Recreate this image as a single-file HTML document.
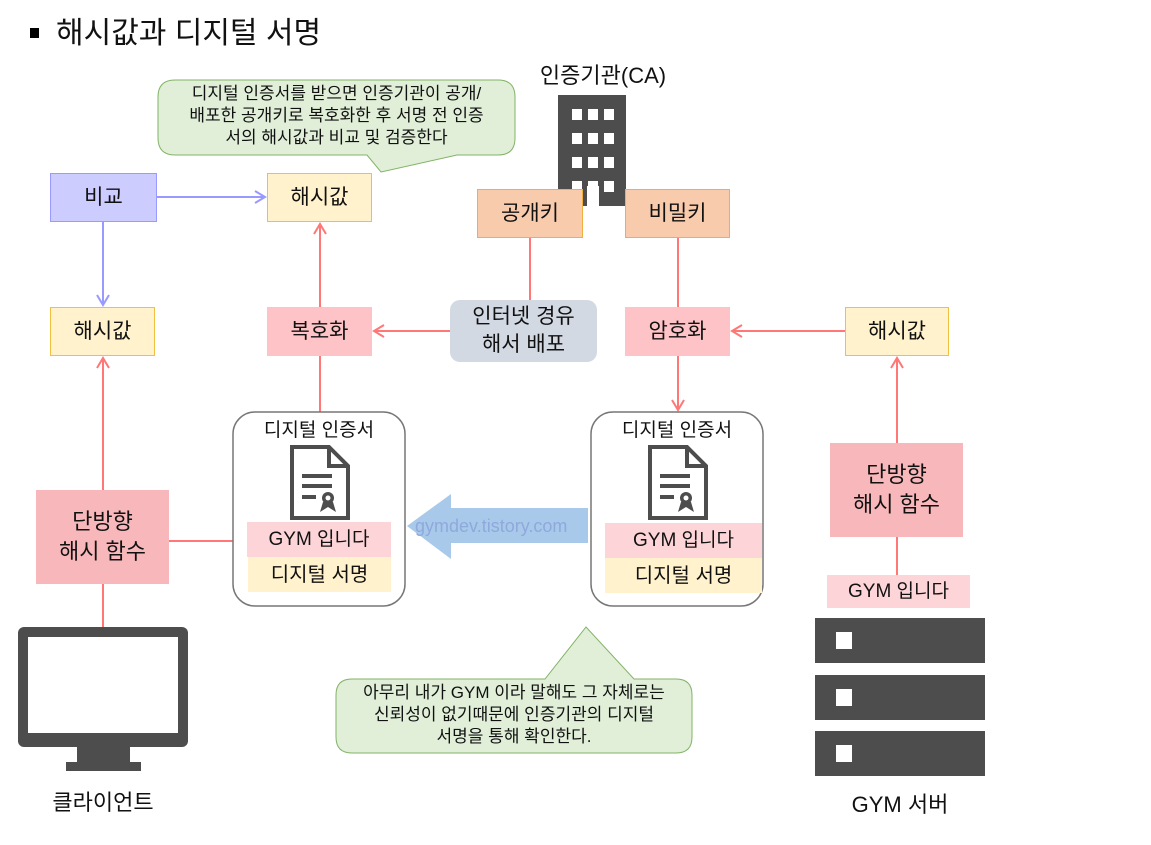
<!DOCTYPE html>
<html><head><meta charset="utf-8"><style>
body{margin:0;width:1151px;height:845px;background:#fff;position:relative;overflow:hidden;font-family:"Liberation Sans","Noto Sans CJK KR",sans-serif;color:#111}
.b{position:absolute;display:flex;align-items:center;justify-content:center;text-align:center;box-sizing:border-box;font-size:21px;line-height:28px}
.t{position:absolute;text-align:center;white-space:nowrap}
</style></head><body>
<svg width="1151" height="845" style="position:absolute;left:0;top:0">
<defs>
<marker id="ar" markerWidth="14" markerHeight="14" refX="11" refY="7" orient="auto" markerUnits="userSpaceOnUse"><path d="M1,1 L11,7 L1,13" fill="none" stroke="#f77" stroke-width="2"/></marker>
<marker id="ab" markerWidth="14" markerHeight="14" refX="11" refY="7" orient="auto" markerUnits="userSpaceOnUse"><path d="M1,1 L11,7 L1,13" fill="none" stroke="#99f" stroke-width="2"/></marker>
</defs>
<rect x="30" y="28" width="9" height="10" fill="#000"/>
<path d="M175,80 H498 Q515,80 515,97 V138 Q515,155 498,155 H457 L381,172 L367,155 H175 Q158,155 158,138 V97 Q158,80 175,80 Z" fill="#e1efd9" stroke="#82b366" stroke-width="1"/>
<path d="M352,679 H545 L586,627 L634,679 H676 Q692,679 692,695 V737 Q692,753 676,753 H352 Q336,753 336,737 V695 Q336,679 352,679 Z" fill="#e1efd9" stroke="#82b366" stroke-width="1"/>
<rect x="558" y="95" width="68" height="111" fill="#4d4d4d"/>
<g fill="#fff">
<rect x="572" y="109" width="10" height="11"/><rect x="588" y="109" width="10" height="11"/><rect x="604" y="109" width="10" height="11"/>
<rect x="572" y="133" width="10" height="11"/><rect x="588" y="133" width="10" height="11"/><rect x="604" y="133" width="10" height="11"/>
<rect x="572" y="157" width="10" height="11"/><rect x="588" y="157" width="10" height="11"/><rect x="604" y="157" width="10" height="11"/>
<rect x="572" y="181" width="10" height="11"/><rect x="588" y="181" width="10" height="11"/><rect x="604" y="181" width="10" height="11"/>
<rect x="587" y="186" width="12" height="20"/>
</g>
<line x1="157" y1="197" x2="265" y2="197" stroke="#99f" stroke-width="2" marker-end="url(#ab)"/>
<line x1="103" y1="222" x2="103" y2="305" stroke="#99f" stroke-width="2" marker-end="url(#ab)"/>
<g stroke="#f77" stroke-width="2" fill="none">
<line x1="320" y1="307" x2="320" y2="224" marker-end="url(#ar)"/>
<line x1="320" y1="356" x2="320" y2="412"/>
<line x1="530" y1="238" x2="530" y2="300"/>
<line x1="450" y1="331" x2="374" y2="331" marker-end="url(#ar)"/>
<line x1="678" y1="238" x2="678" y2="307"/>
<line x1="678" y1="356" x2="678" y2="410" marker-end="url(#ar)"/>
<line x1="845" y1="331" x2="732" y2="331" marker-end="url(#ar)"/>
<line x1="103" y1="490" x2="103" y2="358" marker-end="url(#ar)"/>
<line x1="103" y1="584" x2="103" y2="628"/>
<line x1="169" y1="541" x2="248" y2="541"/>
<line x1="897" y1="443" x2="897" y2="358" marker-end="url(#ar)"/>
<line x1="897" y1="537" x2="897" y2="575"/>
</g>
<rect x="233" y="412" width="172" height="194" rx="22" fill="#fff" stroke="#777" stroke-width="1.5"/>
<rect x="591" y="412" width="172" height="194" rx="22" fill="#fff" stroke="#777" stroke-width="1.5"/>
<g fill="none" stroke="#4d4d4d" stroke-width="4">
<path d="M292,447 H329 L348,466 V518 H292 Z"/><path d="M329,447 V466 H348"/>
<line x1="302" y1="476" x2="332" y2="476"/><line x1="302" y1="486" x2="332" y2="486"/><line x1="302" y1="497" x2="316" y2="497"/>
<path d="M650,447 H687 L706,466 V518 H650 Z"/><path d="M687,447 V466 H706"/>
<line x1="660" y1="476" x2="690" y2="476"/><line x1="660" y1="486" x2="690" y2="486"/><line x1="660" y1="497" x2="674" y2="497"/>
</g>
<g fill="#4d4d4d"><circle cx="328" cy="498" r="6"/><path d="M323,502 L320,512 L328,507 L336,512 L333,502Z"/>
<circle cx="686" cy="498" r="6"/><path d="M681,502 L678,512 L686,507 L694,512 L691,502Z"/></g>
<g fill="#fff"><circle cx="328" cy="498" r="2.5"/><circle cx="686" cy="498" r="2.5"/></g>
<rect x="247" y="522" width="144" height="35" fill="#fdd5d8"/>
<rect x="248" y="557" width="143" height="35" fill="#fff2cc"/>
<rect x="605" y="523" width="157" height="35" fill="#fdd5d8"/>
<rect x="605" y="558" width="157" height="35" fill="#fff2cc"/>
<path d="M588,508 H451 V494 L407,526 L451,559 V543 H588 Z" fill="#a9c9ea"/>
<text x="415" y="532" font-family="Liberation Sans,sans-serif" font-size="18" fill="#8ea9dc">gymdev.tistory.com</text>
<rect x="18" y="627" width="170" height="120" rx="6" fill="#4d4d4d"/>
<rect x="28" y="637" width="150" height="96" fill="#fff"/>
<rect x="77" y="745" width="53" height="18" fill="#4d4d4d"/>
<rect x="66" y="762" width="75" height="9" fill="#4d4d4d"/>
<g fill="#4d4d4d"><rect x="815" y="618" width="170" height="45"/><rect x="815" y="675" width="170" height="45"/><rect x="815" y="731" width="170" height="45"/></g>
<g fill="#fff"><rect x="836" y="632" width="16" height="17"/><rect x="836" y="689" width="16" height="17"/><rect x="836" y="745" width="16" height="17"/></g>
</svg>
<div class="t" style="left:56px;top:13px;font-size:30px;line-height:42px">해시값과 디지털 서명</div>
<div class="t" style="left:158px;top:83px;width:357px;font-size:17px;line-height:22px">디지털 인증서를 받으면 인증기관이 공개/<br>배포한 공개키로 복호화한 후 서명 전 인증<br>서의 해시값과 비교 및 검증한다</div>
<div class="t" style="left:520px;top:61px;width:166px;font-size:22px;line-height:30px">인증기관(CA)</div>
<div class="b" style="left:50px;top:173px;width:107px;height:49px;background:#ccf;border:1px solid #99f">비교</div>
<div class="b" style="left:267px;top:173px;width:105px;height:49px;background:#fff2cc;border:1px solid #f0c040">해시값</div>
<div class="b" style="left:477px;top:189px;width:106px;height:49px;background:#f8cbad;border:1px solid #f0b040">공개키</div>
<div class="b" style="left:625px;top:189px;width:105px;height:49px;background:#f8cbad;border:1px solid #f0b040">비밀키</div>
<div class="b" style="left:50px;top:307px;width:105px;height:49px;background:#fff2cc;border:1px solid #f0c040">해시값</div>
<div class="b" style="left:267px;top:307px;width:105px;height:49px;background:#fdc3c6">복호화</div>
<div class="b" style="left:450px;top:300px;width:147px;height:62px;background:#d3d9e3;border-radius:10px">인터넷 경유<br>해서 배포</div>
<div class="b" style="left:625px;top:307px;width:105px;height:49px;background:#fdc3c6">암호화</div>
<div class="b" style="left:845px;top:307px;width:104px;height:49px;background:#fff2cc;border:1px solid #f0c040">해시값</div>
<div class="t" style="left:233px;top:419px;width:172px;font-size:19px;line-height:24px">디지털 인증서</div>
<div class="t" style="left:591px;top:419px;width:172px;font-size:19px;line-height:24px">디지털 인증서</div>
<div class="b" style="left:247px;top:522px;width:144px;height:35px;font-size:19px">GYM 입니다</div>
<div class="b" style="left:248px;top:557px;width:143px;height:35px;font-size:20px">디지털 서명</div>
<div class="b" style="left:605px;top:523px;width:157px;height:35px;font-size:19px">GYM 입니다</div>
<div class="b" style="left:605px;top:558px;width:157px;height:35px;font-size:20px">디지털 서명</div>
<div class="b" style="left:36px;top:490px;width:133px;height:94px;background:#f8b8bb;font-size:22px;line-height:30px">단방향<br>해시 함수</div>
<div class="b" style="left:830px;top:443px;width:133px;height:94px;background:#f8b8bb;font-size:22px;line-height:30px">단방향<br>해시 함수</div>
<div class="b" style="left:827px;top:575px;width:143px;height:33px;background:#fdd5d8;font-size:19px">GYM 입니다</div>
<div class="t" style="left:336px;top:682px;width:356px;font-size:17px;line-height:22px">아무리 내가 GYM 이라 말해도 그 자체로는<br>신뢰성이 없기때문에 인증기관의 디지털<br>서명을 통해 확인한다.</div>
<div class="t" style="left:18px;top:788px;width:170px;font-size:22px;line-height:30px">클라이언트</div>
<div class="t" style="left:815px;top:790px;width:170px;font-size:22px;line-height:30px">GYM 서버</div>
</body></html>
